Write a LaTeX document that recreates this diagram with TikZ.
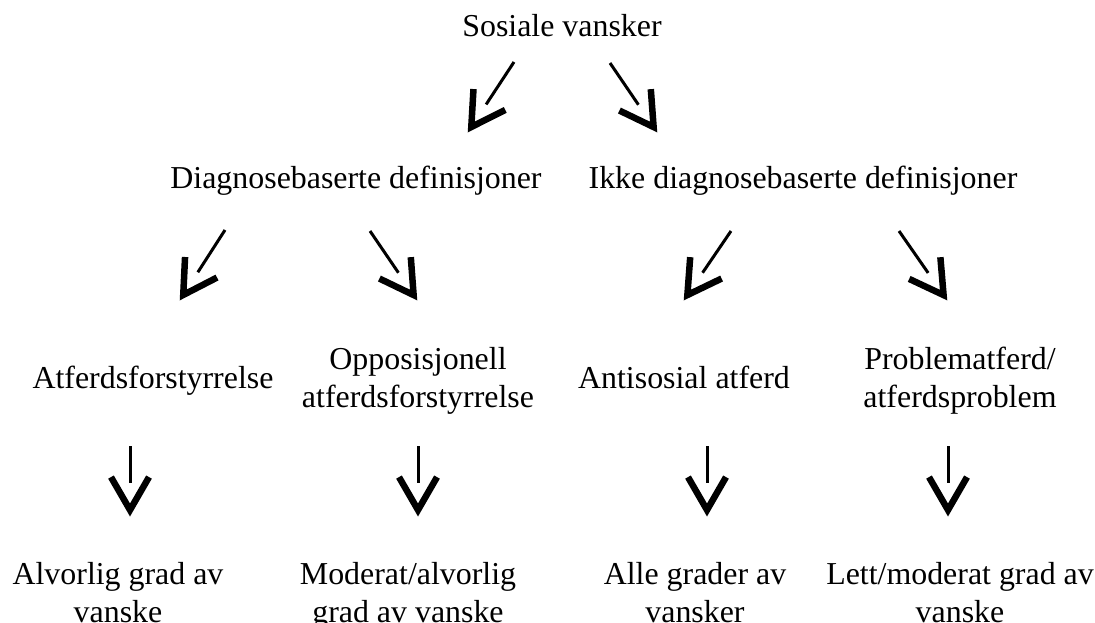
\documentclass[tikz,border=0pt]{standalone}
\usepackage{fontspec}
\setmainfont{Liberation Serif}
\usetikzlibrary{calc}
\tikzset{
  lbl/.style={inner sep=0pt, outer sep=0pt, anchor=base, align=center,
    font=\fontsize{31.9}{38}\selectfont},
  shaft/.style={line width=3pt, line cap=butt},
  head/.style={line width=6.5pt, line cap=butt, line join=miter},
}
\newcommand\chevarrow[2]{%
  \draw[shaft] (#1) -- ($(#2)!33pt!(#1)$);
  \draw[head] ($($(#2)!6pt!(#1)$)!38pt!30:(#1)$) -- ($(#2)!6pt!(#1)$) -- ($($(#2)!6pt!(#1)$)!38pt!-30:(#1)$);%
}
\begin{document}
\begin{tikzpicture}[x=1pt,y=-1pt]
\fill[white] (0,0) rectangle (1095,623);
\useasboundingbox (0,0) rectangle (1095,623);

\node[lbl] (s) at (562,37) {Sosiale vansker};
\node[lbl] (d) at (356,188) {Diagnosebaserte definisjoner};
\node[lbl] (i) at (803,188) {Ikke diagnosebaserte definisjoner};
\node[lbl] (a1) at (153,388) {Atferdsforstyrrelse};
\node[lbl] (a2) at (418,407) {Opposisjonell\\atferdsforstyrrelse};
\node[lbl] (a3) at (684,388) {Antisosial atferd};
\node[lbl] (a4) at (960,407) {Problematferd/\\atferdsproblem};
\node[lbl] (b1) at (118,622) {Alvorlig grad av\\vanske};
\node[lbl] (b2) at (408,622) {Moderat/alvorlig\\grad av vanske};
\node[lbl] (b3) at (695,622) {Alle grader av\\vansker};
\node[lbl] (b4) at (960,622) {Lett/moderat grad av\\vanske};

\coordinate (s1) at (514,62);  \coordinate (t1) at (468,132);
\coordinate (s2) at (610,63);  \coordinate (t2) at (657,132);
\coordinate (s3) at (225,230); \coordinate (t3) at (180,300);
\coordinate (s4) at (370,231); \coordinate (t4) at (417,300);
\coordinate (s5) at (731,231); \coordinate (t5) at (684,300);
\coordinate (s6) at (899,231); \coordinate (t6) at (947,300);
\coordinate (u1) at (130,446); \coordinate (v1) at (130,516);
\coordinate (u2) at (418,446); \coordinate (v2) at (418,516);
\coordinate (u3) at (707,446); \coordinate (v3) at (707,516);
\coordinate (u4) at (948,446); \coordinate (v4) at (948,516);

\chevarrow{s1}{t1}
\chevarrow{s2}{t2}
\chevarrow{s3}{t3}
\chevarrow{s4}{t4}
\chevarrow{s5}{t5}
\chevarrow{s6}{t6}
\chevarrow{u1}{v1}
\chevarrow{u2}{v2}
\chevarrow{u3}{v3}
\chevarrow{u4}{v4}
\end{tikzpicture}
\end{document}
